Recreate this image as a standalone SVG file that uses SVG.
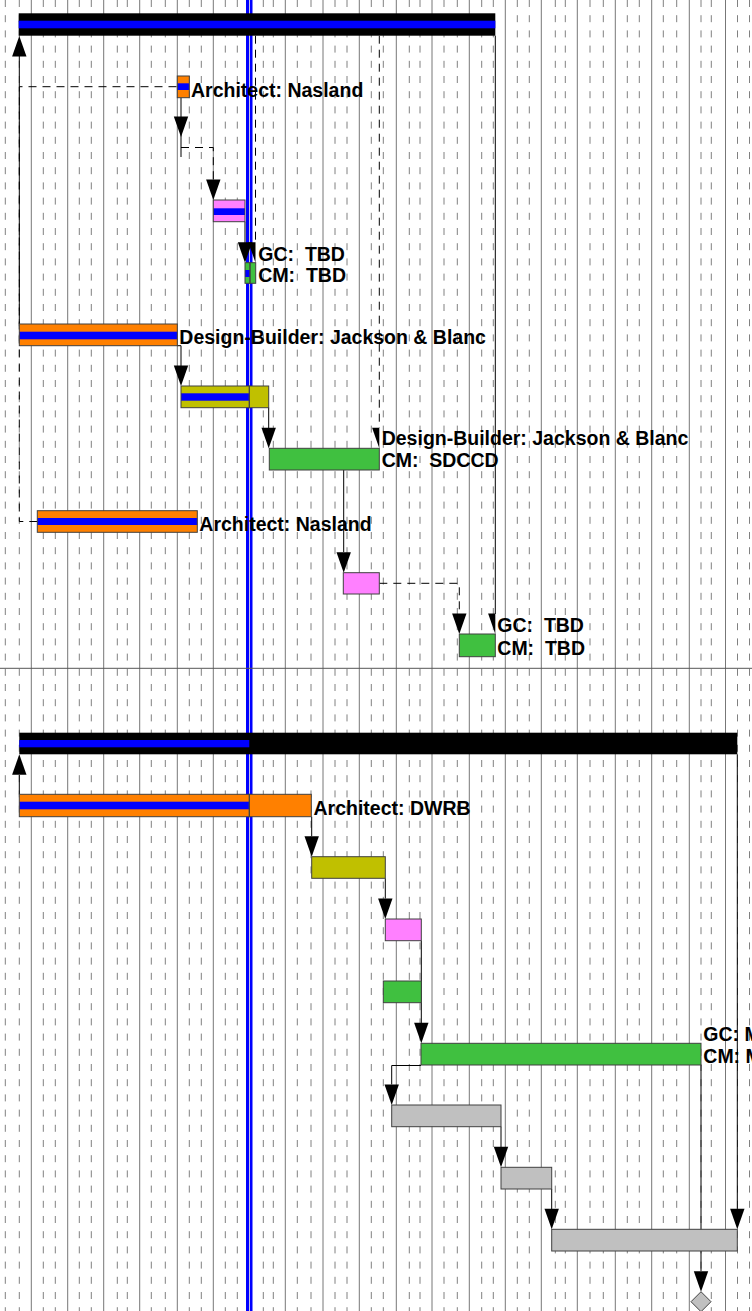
<svg xmlns="http://www.w3.org/2000/svg" width="752" height="1311" viewBox="0 0 752 1311">
<defs>
<style>
.gs{stroke:#777;stroke-width:1}
.gd{stroke:#808080;stroke-width:1;stroke-dasharray:7 8.2}
.c{stroke:#000;stroke-width:1;fill:none}
.cd{stroke:#000;stroke-width:1;fill:none;stroke-dasharray:8 6}
.bar{fill:none;stroke:#404040;stroke-width:1}
.o{fill:#ff8000}.b{fill:#0000ff}.p{fill:#ff80ff}.y{fill:#c0c000}.g{fill:#40c040}.gr{fill:#c0c0c0}.k{fill:#000}
.t{font-family:"Liberation Sans",Arial,Helvetica,sans-serif;font-weight:bold;font-size:19.5px;fill:#000;white-space:pre}
</style>
<path id="ad" d="M-7.2,-20.5 L7.2,-20.5 L0,0 Z" fill="#000"/>
<path id="ah" d="M-7.2,-20.5 L0,-20.5 L0,0 Z" fill="#000"/>
<path id="au" d="M-7.2,20.5 L7.2,20.5 L0,0 Z" fill="#000"/>
</defs>
<rect width="752" height="1311" fill="#fff"/>
<g id="grid">
<g class="gd">
<line x1="5.3" y1="0" x2="5.3" y2="1311"/><line x1="19.3" y1="0" x2="19.3" y2="1311"/>
<line x1="43.3" y1="0" x2="43.3" y2="1311"/><line x1="55.3" y1="0" x2="55.3" y2="1311"/>
<line x1="79.3" y1="0" x2="79.3" y2="1311"/><line x1="91.3" y1="0" x2="91.3" y2="1311"/>
<line x1="117.3" y1="0" x2="117.3" y2="1311"/><line x1="127.3" y1="0" x2="127.3" y2="1311"/>
<line x1="151.3" y1="0" x2="151.3" y2="1311"/><line x1="165.3" y1="0" x2="165.3" y2="1311"/>
<line x1="189.3" y1="0" x2="189.3" y2="1311"/><line x1="201.3" y1="0" x2="201.3" y2="1311"/>
<line x1="225.3" y1="0" x2="225.3" y2="1311"/><line x1="237.3" y1="0" x2="237.3" y2="1311"/>
<line x1="263.3" y1="0" x2="263.3" y2="1311"/><line x1="273.3" y1="0" x2="273.3" y2="1311"/>
<line x1="297.3" y1="0" x2="297.3" y2="1311"/><line x1="311" y1="0" x2="311" y2="1311"/>
<line x1="335" y1="0" x2="335" y2="1311"/><line x1="347" y1="0" x2="347" y2="1311"/>
<line x1="371.3" y1="0" x2="371.3" y2="1311"/><line x1="383.3" y1="0" x2="383.3" y2="1311"/>
<line x1="409.3" y1="0" x2="409.3" y2="1311"/><line x1="420" y1="0" x2="420" y2="1311"/>
<line x1="444" y1="0" x2="444" y2="1311"/><line x1="457.3" y1="0" x2="457.3" y2="1311"/>
<line x1="481.7" y1="0" x2="481.7" y2="1311"/><line x1="493.3" y1="0" x2="493.3" y2="1311"/>
<line x1="517.3" y1="0" x2="517.3" y2="1311"/><line x1="529.3" y1="0" x2="529.3" y2="1311"/>
<line x1="555.3" y1="0" x2="555.3" y2="1311"/><line x1="565.3" y1="0" x2="565.3" y2="1311"/>
<line x1="590" y1="0" x2="590" y2="1311"/><line x1="603.3" y1="0" x2="603.3" y2="1311"/>
<line x1="627.3" y1="0" x2="627.3" y2="1311"/><line x1="639.3" y1="0" x2="639.3" y2="1311"/>
<line x1="663.3" y1="0" x2="663.3" y2="1311"/><line x1="676.7" y1="0" x2="676.7" y2="1311"/>
<line x1="701" y1="0" x2="701" y2="1311"/><line x1="711.3" y1="0" x2="711.3" y2="1311"/>
<line x1="737.5" y1="0" x2="737.5" y2="1311"/><line x1="749.5" y1="0" x2="749.5" y2="1311"/>
</g>
<g class="gs">
<line x1="31.3" y1="0" x2="31.3" y2="1311"/><line x1="67.7" y1="0" x2="67.7" y2="1311"/>
<line x1="103.7" y1="0" x2="103.7" y2="1311"/><line x1="139.7" y1="0" x2="139.7" y2="1311"/>
<line x1="177.3" y1="0" x2="177.3" y2="1311"/><line x1="213.3" y1="0" x2="213.3" y2="1311"/>
<line x1="285.3" y1="0" x2="285.3" y2="1311"/><line x1="323" y1="0" x2="323" y2="1311"/>
<line x1="359.3" y1="0" x2="359.3" y2="1311"/><line x1="396.3" y1="0" x2="396.3" y2="1311"/>
<line x1="432" y1="0" x2="432" y2="1311"/><line x1="469.3" y1="0" x2="469.3" y2="1311"/>
<line x1="505.3" y1="0" x2="505.3" y2="1311"/><line x1="541.3" y1="0" x2="541.3" y2="1311"/>
<line x1="577.3" y1="0" x2="577.3" y2="1311"/><line x1="615.3" y1="0" x2="615.3" y2="1311"/>
<line x1="651.7" y1="0" x2="651.7" y2="1311"/><line x1="689.3" y1="0" x2="689.3" y2="1311"/>
<line x1="725.5" y1="0" x2="725.5" y2="1311"/>
</g>
</g>
<g id="today">
<rect x="246" y="0" width="6.5" height="1311" fill="#0000ff"/>
<line x1="249.5" y1="0" x2="249.5" y2="1311" stroke="#c8c8dc" stroke-width="1"/>
</g>
<line id="separator" x1="0" y1="668.3" x2="752" y2="668.3" stroke="#555" stroke-width="1"/>
<g id="connectors">
<path class="c" d="M19.3,324 V56"/><use href="#au" x="19.3" y="36"/>
<path class="cd" d="M37.3,521.5 H19.3 V86.7 H177.3"/>
<path class="c" d="M181,97.7 V157"/><use href="#ad" x="181" y="137"/>
<path class="cd" d="M181,147.5 H213.3 V180"/><use href="#ad" x="213.3" y="200"/>
<path class="c" d="M245,221.7 V243"/><use href="#ad" x="245" y="262.7"/>
<path class="cd" d="M255.5,35.7 V243"/><use href="#ah" x="255.5" y="262.7"/>
<path class="c" d="M177.3,345.7 H181 V366"/><use href="#ad" x="181" y="386"/>
<path class="c" d="M268.7,407.7 V428"/><use href="#ad" x="268.7" y="448.3"/>
<path class="cd" d="M379.3,35.7 V428"/><use href="#ah" x="379.3" y="448.3"/>
<path class="c" d="M343.7,470 V552"/><use href="#ad" x="343.7" y="572.7"/>
<path class="cd" d="M379.3,583.3 H459.3 V614"/><use href="#ad" x="459.3" y="634"/>
<path class="c" d="M495.3,35.7 V614"/><use href="#ah" x="495.3" y="634"/>
<path class="c" d="M19.3,794.3 V775"/><use href="#au" x="19.3" y="754.3"/>
<path class="c" d="M311.7,816.7 V836"/><use href="#ad" x="311.7" y="856.7"/>
<path class="c" d="M385.3,878.3 V898.5"/><use href="#ad" x="385.3" y="919"/>
<path class="c" d="M421.3,940.7 V1023"/><use href="#ad" x="421.3" y="1043.3"/>
<path class="c" d="M421,1065.5 H391.7 V1084.5"/><use href="#ad" x="391.7" y="1105"/>
<path class="c" d="M501,1126.7 V1147"/><use href="#ad" x="501" y="1167.3"/>
<path class="c" d="M551.7,1189 V1209"/><use href="#ad" x="551.7" y="1229.3"/>
<path class="c" d="M737.3,754.3 V1209"/><use href="#ad" x="737.3" y="1229.3"/>
<path class="c" d="M701,1065 V1271"/><use href="#ad" x="701" y="1291.7"/>
</g>
<g id="summary1">
<rect class="k" x="18.7" y="13.3" width="476.6" height="22.4"/>
<rect class="b" x="18.7" y="20.7" width="476.6" height="7.6"/>
</g>
<g id="architect-nasland-1">
<rect class="o" x="177.3" y="76" width="12" height="21.7"/>
<rect class="b" x="177.3" y="83.3" width="12" height="6.7"/>
<rect class="bar" x="177.3" y="76" width="12" height="21.7"/>
<text class="t" x="191" y="96.5">Architect: Nasland</text>
</g>
<g id="task-pink-1">
<rect class="p" x="213.3" y="200" width="31.7" height="21.7"/>
<rect class="b" x="213.3" y="208.3" width="31.7" height="6.7"/>
<rect class="bar" x="213.3" y="200" width="31.7" height="21.7"/>
</g>
<g id="gc-tbd-1">
<rect class="g" x="245" y="262.7" width="10.7" height="20.6"/>
<rect class="b" x="245" y="270" width="5" height="7"/>
<rect class="bar" x="245" y="262.7" width="5" height="20.6"/>
<rect class="bar" x="250" y="262.7" width="5.7" height="20.6"/>
<text class="t" x="258.3" y="260.7">GC:  TBD</text>
<text class="t" x="258.3" y="281.7">CM:  TBD</text>
</g>
<g id="design-builder-1">
<rect class="o" x="19.3" y="324" width="158" height="21.7"/>
<rect class="b" x="19.3" y="331.7" width="158" height="7.6"/>
<rect class="bar" x="19.3" y="324" width="158" height="21.7"/>
<text class="t" x="179.3" y="343.5">Design-Builder: Jackson &amp; Blanc</text>
</g>
<g id="task-olive-1">
<rect class="y" x="181" y="386" width="87.7" height="21.7"/>
<rect class="b" x="181" y="393.3" width="68.3" height="7.4"/>
<rect class="bar" x="181" y="386" width="68.3" height="21.7"/>
<rect class="bar" x="249.3" y="386" width="19.4" height="21.7"/>
</g>
<g id="design-builder-2">
<rect class="g" x="269.3" y="448.3" width="110" height="21.7"/>
<rect class="bar" x="269.3" y="448.3" width="110" height="21.7"/>
<text class="t" x="381.7" y="445.3">Design-Builder: Jackson &amp; Blanc</text>
<text class="t" x="381.7" y="467.3">CM:  SDCCD</text>
</g>
<g id="architect-nasland-2">
<rect class="o" x="37.3" y="510.7" width="160" height="21.6"/>
<rect class="b" x="37.3" y="518" width="160" height="7"/>
<rect class="bar" x="37.3" y="510.7" width="160" height="21.6"/>
<text class="t" x="199.3" y="531">Architect: Nasland</text>
</g>
<g id="task-pink-2">
<rect class="p" x="343.3" y="572.7" width="36" height="21.3"/>
<rect class="bar" x="343.3" y="572.7" width="36" height="21.3"/>
</g>
<g id="gc-tbd-2">
<rect class="g" x="459.3" y="634" width="36" height="22.7"/>
<rect class="bar" x="459.3" y="634" width="36" height="22.7"/>
<text class="t" x="497.3" y="631.7">GC:  TBD</text>
<text class="t" x="497.3" y="655">CM:  TBD</text>
</g>
<g id="summary2">
<rect class="k" x="19.3" y="732.7" width="718" height="21.6"/>
<rect class="b" x="19.3" y="740" width="230" height="7.3"/>
</g>
<g id="architect-dwrb">
<rect class="o" x="19.3" y="794.3" width="292" height="22.4"/>
<rect class="b" x="19.3" y="801.7" width="230" height="7.6"/>
<rect class="bar" x="19.3" y="794.3" width="230" height="22.4"/>
<rect class="bar" x="249.3" y="794.3" width="62" height="22.4"/>
<text class="t" x="313.5" y="815">Architect: DWRB</text>
</g>
<g id="task-olive-2">
<rect class="y" x="311.7" y="856.7" width="73.6" height="21.6"/>
<rect class="bar" x="311.7" y="856.7" width="73.6" height="21.6"/>
</g>
<g id="task-pink-3">
<rect class="p" x="385.3" y="919" width="36" height="21.7"/>
<rect class="bar" x="385.3" y="919" width="36" height="21.7"/>
</g>
<g id="task-green-small">
<rect class="g" x="383.3" y="981" width="38" height="21.7"/>
<rect class="bar" x="383.3" y="981" width="38" height="21.7"/>
</g>
<g id="gc-m">
<rect class="g" x="421" y="1043.3" width="280" height="21.7"/>
<rect class="bar" x="421" y="1043.3" width="280" height="21.7"/>
<text class="t" x="703.3" y="1040.7">GC: M</text>
<text class="t" x="703.3" y="1063.3">CM: M</text>
</g>
<g id="task-gray-1">
<rect class="gr" x="391.7" y="1105" width="109.3" height="21.7"/>
<rect class="bar" x="391.7" y="1105" width="109.3" height="21.7"/>
</g>
<g id="task-gray-2">
<rect class="gr" x="501" y="1167.3" width="50.7" height="21.7"/>
<rect class="bar" x="501" y="1167.3" width="50.7" height="21.7"/>
</g>
<g id="task-gray-3">
<rect class="gr" x="551.7" y="1229.3" width="185.6" height="21.7"/>
<rect class="bar" x="551.7" y="1229.3" width="185.6" height="21.7"/>
</g>
<g id="milestone">
<path d="M701,1291.7 L711,1301.7 L701,1311.7 L691,1301.7 Z" fill="#c0c0c0" stroke="#404040" stroke-width="1"/>
</g>
</svg>
